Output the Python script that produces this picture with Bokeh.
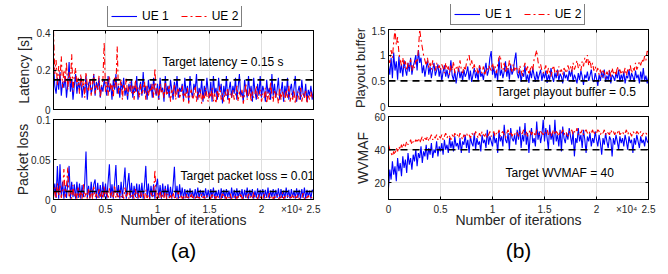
from bokeh.plotting import figure
from bokeh.layouts import row, column
from bokeh.models import (Range1d, FixedTicker, LinearAxis, Span, Label,
                          Legend, LegendItem, Title)
from bokeh.embed import file_html
from bokeh.resources import INLINE

# ---------------- data ----------------
iterations = list(range(0, 25001, 125))
x_ticks = [0, 5000, 10000, 15000, 20000, 25000]
x_tick_labels = ["0", "0.5", "1", "1.5", "2", "2.5"]
exponent_pos = 22900
exponent_label = "×10⁴"
series_labels = ["UE 1", "UE 2"]

latency_ue1 = [
    0.23, 0.12, 0.08, 0.16, 0.10, 0.19, 0.07, 0.14, 0.11, 0.17, 0.06, 0.13, 0.24, 0.09, 0.15, 0.05, 0.12, 0.18, 0.08, 0.14,
    0.10, 0.16, 0.06, 0.12, 0.09, 0.17, 0.05, 0.13, 0.15, 0.08, 0.11, 0.18, 0.07, 0.14, 0.10, 0.16, 0.06, 0.12, 0.09, 0.15,
    0.11, 0.07, 0.17, 0.09, 0.13, 0.05, 0.15, 0.10, 0.18, 0.08, 0.12, 0.06, 0.14, 0.10, 0.16, 0.07, 0.11, 0.05, 0.13, 0.09,
    0.15, 0.06, 0.12, 0.09, 0.17, 0.05, 0.11, 0.14, 0.07, 0.19, 0.08, 0.12, 0.05, 0.15, 0.09, 0.13, 0.06, 0.16, 0.10, 0.07,
    0.13, 0.05, 0.16, 0.09, 0.11, 0.04, 0.17, 0.08, 0.12, 0.06, 0.15, 0.10, 0.05, 0.14, 0.08, 0.17, 0.06, 0.11, 0.09, 0.13,
    0.05, 0.16, 0.08, 0.12, 0.04, 0.17, 0.09, 0.06, 0.13, 0.10, 0.18, 0.05, 0.11, 0.08, 0.15, 0.04, 0.12, 0.07, 0.16, 0.09,
    0.06, 0.14, 0.04, 0.17, 0.08, 0.11, 0.05, 0.16, 0.09, 0.13, 0.03, 0.12, 0.07, 0.17, 0.05, 0.10, 0.14, 0.06, 0.12, 0.08,
    0.16, 0.05, 0.11, 0.18, 0.07, 0.09, 0.04, 0.15, 0.10, 0.06, 0.17, 0.08, 0.12, 0.04, 0.16, 0.09, 0.05, 0.13, 0.07, 0.17,
    0.06, 0.12, 0.09, 0.04, 0.15, 0.08, 0.11, 0.05, 0.18, 0.07, 0.13, 0.06, 0.10, 0.16, 0.05, 0.09, 0.14, 0.04, 0.12, 0.07,
    0.16, 0.05, 0.10, 0.13, 0.06, 0.11, 0.17, 0.04, 0.09, 0.12, 0.05, 0.15, 0.08, 0.06, 0.13, 0.04, 0.10, 0.07, 0.12, 0.05,
    0.10]
latency_ue2 = [
    0.40, 0.18, 0.25, 0.12, 0.22, 0.15, 0.27, 0.11, 0.20, 0.14, 0.24, 0.10, 0.19, 0.13, 0.28, 0.09, 0.17, 0.21, 0.12, 0.16,
    0.08, 0.18, 0.11, 0.15, 0.06, 0.19, 0.12, 0.09, 0.16, 0.07, 0.14, 0.18, 0.08, 0.13, 0.10, 0.17, 0.06, 0.12, 0.15, 0.34,
    0.09, 0.14, 0.07, 0.17, 0.10, 0.13, 0.06, 0.16, 0.11, 0.32, 0.08, 0.12, 0.15, 0.05, 0.13, 0.09, 0.16, 0.07, 0.11, 0.14,
    0.08, 0.12, 0.05, 0.15, 0.09, 0.11, 0.06, 0.13, 0.08, 0.10, 0.14, 0.05, 0.12, 0.07, 0.11, 0.09, 0.13, 0.06, 0.21, 0.08,
    0.11, 0.05, 0.13, 0.08, 0.10, 0.06, 0.14, 0.07, 0.09, 0.12, 0.04, 0.10, 0.07, 0.13, 0.05, 0.09, 0.11, 0.06, 0.08, 0.12,
    0.04, 0.09, 0.06, 0.11, 0.03, 0.08, 0.10, 0.05, 0.07, 0.12, 0.04, 0.09, 0.06, 0.10, 0.03, 0.08, 0.05, 0.11, 0.07, 0.04,
    0.09, 0.06, 0.11, 0.04, 0.08, 0.03, 0.10, 0.06, 0.12, 0.05, 0.08, 0.04, 0.09, 0.07, 0.11, 0.03, 0.08, 0.06, 0.10, 0.05,
    0.07, 0.12, 0.04, 0.09, 0.06, 0.10, 0.03, 0.08, 0.13, 0.05, 0.07, 0.11, 0.04, 0.09, 0.06, 0.08, 0.12, 0.05, 0.07, 0.10,
    0.04, 0.08, 0.06, 0.11, 0.03, 0.09, 0.05, 0.14, 0.07, 0.04, 0.10, 0.06, 0.08, 0.03, 0.11, 0.05, 0.09, 0.07, 0.04, 0.10,
    0.06, 0.12, 0.04, 0.08, 0.05, 0.10, 0.03, 0.07, 0.09, 0.05, 0.11, 0.04, 0.08, 0.06, 0.10, 0.03, 0.07, 0.05, 0.09, 0.06,
    0.07]

loss_ue1 = [
    0.004, 0.020, 0.002, 0.042, 0.001, 0.044, 0.003, 0.022, 0.001, 0.018, 0.002, 0.021, 0.042, 0.001, 0.022, 0.003, 0.019, 0.001, 0.022, 0.002,
    0.020, 0.001, 0.018, 0.003, 0.021, 0.060, 0.002, 0.017, 0.001, 0.022, 0.003, 0.019, 0.025, 0.001, 0.021, 0.002, 0.018, 0.001, 0.022, 0.003,
    0.020, 0.001, 0.022, 0.044, 0.002, 0.019, 0.001, 0.021, 0.043, 0.003, 0.018, 0.001, 0.022, 0.002, 0.020, 0.040, 0.001, 0.019, 0.033, 0.002,
    0.021, 0.001, 0.017, 0.003, 0.020, 0.001, 0.019, 0.002, 0.021, 0.001, 0.018, 0.042, 0.002, 0.020, 0.001, 0.017, 0.003, 0.019, 0.001, 0.016,
    0.026, 0.002, 0.018, 0.001, 0.020, 0.003, 0.017, 0.001, 0.019, 0.002, 0.016, 0.001, 0.018, 0.041, 0.002, 0.017, 0.001, 0.019, 0.003, 0.015,
    0.001, 0.013, 0.002, 0.012, 0.001, 0.014, 0.003, 0.011, 0.001, 0.013, 0.002, 0.015, 0.001, 0.012, 0.003, 0.011, 0.001, 0.014, 0.002, 0.012,
    0.001, 0.013, 0.002, 0.015, 0.001, 0.011, 0.003, 0.012, 0.001, 0.014, 0.002, 0.012, 0.001, 0.013, 0.003, 0.011, 0.001, 0.015, 0.002, 0.012,
    0.001, 0.014, 0.002, 0.011, 0.003, 0.013, 0.001, 0.012, 0.002, 0.015, 0.001, 0.012, 0.003, 0.013, 0.001, 0.011, 0.002, 0.014, 0.001, 0.012,
    0.003, 0.013, 0.001, 0.012, 0.002, 0.015, 0.001, 0.011, 0.003, 0.013, 0.001, 0.012, 0.002, 0.014, 0.001, 0.013, 0.002, 0.011, 0.001, 0.015,
    0.002, 0.012, 0.001, 0.013, 0.003, 0.011, 0.001, 0.014, 0.002, 0.012, 0.001, 0.013, 0.002, 0.015, 0.001, 0.012, 0.003, 0.011, 0.001, 0.012,
    0.010]
loss_ue2 = [
    0.002, 0.015, 0.001, 0.020, 0.004, 0.017, 0.002, 0.012, 0.038, 0.003, 0.016, 0.040, 0.002, 0.012, 0.001, 0.018, 0.003, 0.009, 0.001, 0.015,
    0.002, 0.011, 0.001, 0.019, 0.003, 0.008, 0.001, 0.014, 0.002, 0.012, 0.001, 0.016, 0.003, 0.007, 0.001, 0.013, 0.002, 0.010, 0.001, 0.017,
    0.002, 0.009, 0.001, 0.014, 0.003, 0.010, 0.001, 0.018, 0.002, 0.008, 0.001, 0.012, 0.003, 0.007, 0.001, 0.015, 0.002, 0.009, 0.001, 0.011,
    0.002, 0.006, 0.001, 0.013, 0.002, 0.008, 0.001, 0.010, 0.003, 0.007, 0.001, 0.012, 0.002, 0.005, 0.001, 0.009, 0.002, 0.006, 0.037, 0.001,
    0.008, 0.002, 0.011, 0.001, 0.006, 0.002, 0.013, 0.001, 0.007, 0.002, 0.005, 0.001, 0.009, 0.002, 0.004, 0.001, 0.010, 0.002, 0.006, 0.001,
    0.004, 0.001, 0.007, 0.002, 0.003, 0.001, 0.008, 0.002, 0.004, 0.001, 0.006, 0.002, 0.003, 0.001, 0.007, 0.002, 0.004, 0.001, 0.005, 0.002,
    0.003, 0.001, 0.008, 0.002, 0.004, 0.001, 0.006, 0.002, 0.003, 0.001, 0.009, 0.002, 0.004, 0.001, 0.005, 0.002, 0.007, 0.001, 0.003, 0.002,
    0.006, 0.001, 0.004, 0.002, 0.008, 0.001, 0.003, 0.002, 0.005, 0.001, 0.007, 0.002, 0.004, 0.001, 0.009, 0.002, 0.003, 0.001, 0.006, 0.002,
    0.004, 0.001, 0.007, 0.002, 0.003, 0.001, 0.008, 0.002, 0.005, 0.001, 0.004, 0.002, 0.006, 0.001, 0.003, 0.002, 0.009, 0.001, 0.004, 0.002,
    0.005, 0.001, 0.003, 0.002, 0.007, 0.001, 0.004, 0.002, 0.006, 0.001, 0.003, 0.002, 0.008, 0.001, 0.004, 0.002, 0.005, 0.001, 0.003, 0.002,
    0.005]

buffer_ue1 = [
    0.80, 0.62, 0.95, 0.55, 1.05, 0.70, 0.88, 0.52, 0.98, 0.65, 0.82, 0.58, 0.90, 0.72, 0.60, 0.85, 0.68, 0.95, 0.62, 0.78,
    0.88, 1.00, 0.70, 1.10, 0.85, 0.95, 0.65, 0.80, 0.58, 0.75, 0.90, 0.62, 0.78, 0.55, 0.72, 0.85, 0.60, 0.70, 0.82, 0.58,
    0.75, 0.50, 0.68, 0.80, 0.58, 0.72, 0.55, 0.65, 0.90, 0.60, 0.52, 0.70, 0.45, 0.62, 0.75, 0.55, 0.68, 0.50, 0.72, 0.58,
    0.65, 0.78, 0.52, 0.70, 0.48, 0.62, 0.75, 0.55, 0.68, 0.50, 0.80, 0.58, 0.65, 0.52, 0.72, 0.85, 0.60, 0.70, 0.95, 1.08,
    0.62, 0.78, 0.55, 0.70, 0.50, 0.95, 0.60, 0.72, 0.55, 0.68, 0.88, 0.58, 0.75, 0.52, 0.82, 0.62, 0.70, 0.90, 1.05, 0.65,
    0.55, 0.72, 0.48, 0.65, 0.58, 0.80, 0.50, 0.62, 0.46, 0.70, 0.55, 0.75, 0.60, 0.48, 0.68, 0.52, 0.62, 0.72, 0.50, 0.65,
    0.55, 0.70, 0.46, 0.62, 0.52, 0.75, 0.58, 0.48, 0.66, 0.55, 0.72, 0.50, 0.64, 0.58, 0.45, 0.68, 0.55, 0.62, 0.50, 0.70,
    0.58, 0.72, 0.48, 0.62, 0.55, 0.45, 0.65, 0.52, 0.70, 0.58, 0.42, 0.62, 0.55, 0.68, 0.50, 0.60, 0.72, 0.52, 0.48, 0.65,
    0.55, 0.40, 0.62, 0.50, 0.68, 0.55, 0.72, 0.48, 0.60, 0.52, 0.70, 0.45, 0.62, 0.58, 0.50, 0.66, 0.55, 0.72, 0.48, 0.62,
    0.52, 0.68, 0.45, 0.60, 0.55, 0.72, 0.50, 0.65, 0.58, 0.48, 0.70, 0.55, 0.62, 0.45, 0.68, 0.52, 0.75, 0.50, 0.60, 0.45,
    0.58]
buffer_ue2 = [
    0.90, 0.85, 1.10, 0.95, 1.25, 1.50, 1.20, 1.35, 1.05, 0.90, 0.80, 0.95, 0.75, 0.88, 0.70, 0.85, 0.78, 0.92, 0.70, 0.82,
    0.75, 0.90, 0.85, 1.10, 1.50, 1.30, 1.15, 1.00, 0.90, 0.80, 0.95, 0.75, 0.85, 0.72, 0.90, 0.78, 0.70, 0.85, 0.75, 0.80,
    0.70, 0.82, 0.75, 0.65, 0.85, 0.72, 0.78, 0.62, 0.80, 0.70, 0.88, 0.65, 0.75, 0.80, 0.68, 0.90, 0.72, 0.65, 0.78, 0.70,
    0.85, 0.95, 1.00, 0.80, 0.90, 0.72, 0.82, 0.68, 0.75, 0.62, 0.80, 0.70, 0.65, 0.78, 0.60, 0.72, 0.68, 0.80, 0.75, 0.70,
    0.85, 0.72, 0.78, 0.65, 0.82, 0.95, 1.00, 0.75, 0.70, 0.85, 0.65, 0.80, 0.72, 0.90, 0.75, 0.68, 0.82, 0.70, 0.78, 0.72,
    0.65, 0.80, 0.70, 0.60, 0.75, 0.85, 0.68, 0.78, 0.62, 0.72, 0.80, 0.70, 0.92, 1.00, 1.10, 0.88, 0.75, 0.82, 0.70, 0.65,
    0.72, 0.80, 0.62, 0.75, 0.68, 0.58, 0.72, 0.80, 0.65, 0.70, 0.60, 0.78, 0.68, 0.72, 0.62, 0.75, 0.70, 0.65, 0.80, 0.72,
    0.78, 0.68, 0.85, 0.72, 0.80, 0.90, 0.75, 0.82, 0.70, 0.88, 0.78, 0.95, 0.85, 1.00, 0.80, 0.90, 0.75, 0.85, 0.70, 0.78,
    0.68, 0.75, 0.62, 0.72, 0.58, 0.70, 0.65, 0.55, 0.68, 0.62, 0.72, 0.58, 0.75, 0.65, 0.70, 0.60, 0.78, 0.68, 0.72, 0.62,
    0.70, 0.65, 0.75, 0.60, 0.72, 0.68, 0.80, 0.65, 0.75, 0.70, 0.85, 0.72, 0.78, 0.88, 0.80, 0.92, 0.85, 0.98, 0.90, 1.08,
    1.02]

wvmaf_ue1 = [
    17, 28, 22, 33, 25, 30, 21, 35, 27, 32, 24, 36, 29, 34, 26, 38, 31, 35, 28, 37,
    33, 40, 30, 38, 35, 42, 32, 39, 36, 43, 34, 41, 37, 44, 35, 40, 38, 45, 36, 42,
    39, 44, 37, 46, 40, 43, 38, 47, 41, 45, 39, 48, 42, 44, 40, 47, 38, 45, 43, 49,
    41, 46, 38, 48, 44, 42, 50, 40, 47, 43, 45, 39, 49, 44, 46, 41, 52, 43, 48, 45,
    42, 50, 44, 47, 38, 51, 45, 48, 42, 55, 46, 44, 50, 40, 53, 47, 45, 49, 43, 52,
    46, 54, 41, 49, 45, 56, 43, 50, 38, 48, 53, 44, 47, 42, 57, 46, 51, 44, 49, 58,
    45, 53, 47, 40, 55, 46, 50, 43, 58, 45, 49, 42, 52, 39, 54, 47, 44, 50, 46, 53,
    48, 43, 51, 36, 47, 44, 53, 45, 49, 41, 52, 46, 38, 48, 45, 50, 42, 47, 44, 51,
    46, 42, 49, 44, 37, 47, 43, 50, 45, 41, 48, 46, 36, 47, 43, 49, 45, 40, 48, 44,
    47, 42, 49, 45, 40, 48, 44, 46, 38, 47, 43, 49, 45, 41, 48, 44, 46, 42, 48, 45,
    44]
wvmaf_ue2 = [
    43, 40, 38, 36, 39, 37, 41, 39, 42, 40, 43, 41, 44, 42, 45, 43, 44, 46, 43, 45,
    44, 46, 45, 47, 44, 46, 48, 45, 47, 46, 48, 45, 47, 49, 46, 48, 47, 49, 46, 48,
    47, 49, 46, 48, 50, 47, 49, 48, 46, 49, 47, 50, 48, 49, 47, 50, 48, 46, 49, 48,
    50, 48, 49, 47, 50, 49, 48, 51, 49, 47, 50, 48, 51, 49, 48, 50, 47, 49, 51, 48,
    49, 51, 48, 50, 49, 52, 48, 50, 51, 49, 47, 50, 52, 49, 51, 48, 50, 49, 51, 50,
    48, 51, 49, 50, 52, 49, 51, 48, 50, 52, 49, 51, 50, 48, 52, 50, 49, 51, 50, 49,
    51, 50, 52, 49, 51, 48, 50, 52, 49, 51, 50, 48, 51, 50, 52, 49, 51, 50, 48, 51,
    50, 52, 49, 51, 50, 53, 49, 51, 50, 52, 49, 51, 52, 50, 49, 51, 50, 52, 49, 51,
    50, 52, 51, 49, 51, 50, 52, 49, 51, 50, 49, 52, 50, 51, 49, 51, 50, 52, 49, 50,
    51, 49, 50, 52, 49, 51, 50, 48, 51, 50, 49, 51, 50, 49, 51, 48, 50, 49, 50, 49,
    48]

FONT = "Liberation Sans"
TXT = "#262626"
BLUE = "#0000ff"
RED = "#ff0000"
RED_DASH = "6 3 2 3"


def tick_axis(ticks):
    """Axis that only draws inward tick marks (MATLAB box style)."""
    ax = LinearAxis(ticker=FixedTicker(ticks=ticks))
    ax.major_label_overrides = {t: "" for t in ticks}
    ax.major_label_text_font_size = "0px"
    ax.major_label_standoff = 0
    ax.major_tick_in = 3
    ax.major_tick_out = 0
    ax.minor_tick_line_color = None
    ax.axis_line_color = "black"
    ax.major_tick_line_color = "black"
    return ax


def style_text_axis(ax, label_size="14px"):
    ax.major_label_text_font = FONT
    ax.major_label_text_font_size = "10px"
    ax.major_label_text_color = TXT
    ax.axis_label_text_font = FONT
    ax.axis_label_text_font_style = "normal"
    ax.axis_label_text_font_size = label_size
    ax.axis_label_text_color = TXT


def make_fig(frame_h, left, right, top, bottom, yr, yticks, ylabels,
             ylabel, ylab_standoff, show_x, ylabel_size="14px"):
    p = figure(frame_width=260, frame_height=frame_h,
               x_range=Range1d(0, 25000), y_range=Range1d(*yr),
               min_border_left=left, min_border_right=right,
               min_border_top=top, min_border_bottom=bottom,
               output_backend="svg", toolbar_location=None)
    p.outline_line_color = "black"
    p.outline_line_alpha = 1
    p.outline_line_width = 1
    p.background_fill_color = "white"
    p.border_fill_color = "white"

    yax = p.yaxis[0]
    yax.ticker = FixedTicker(ticks=yticks)
    yax.major_label_overrides = dict(zip(yticks, ylabels))
    yax.major_tick_in = 3
    yax.major_tick_out = 0
    yax.minor_tick_line_color = None
    yax.axis_line_color = "black"
    yax.major_tick_line_color = "black"
    style_text_axis(yax, ylabel_size)
    yax.axis_label = ylabel
    yax.axis_label_standoff = ylab_standoff
    yax.major_label_standoff = 3

    xax = p.xaxis[0]
    xax.ticker = FixedTicker(ticks=x_ticks)
    xax.major_tick_in = 3
    xax.major_tick_out = 0
    xax.minor_tick_line_color = None
    xax.axis_line_color = "black"
    xax.major_tick_line_color = "black"
    xax.major_label_overrides = {t: "" for t in x_ticks}
    xax.major_label_text_font_size = "0px"
    xax.major_label_standoff = 0
    if show_x:
        lab_ticks = x_ticks + [exponent_pos]
        lab = LinearAxis(ticker=FixedTicker(ticks=lab_ticks))
        lab.major_label_overrides = dict(zip(lab_ticks, x_tick_labels + [exponent_label]))
        lab.major_tick_line_color = None
        lab.minor_tick_line_color = None
        lab.axis_line_color = None
        style_text_axis(lab)
        lab.major_label_standoff = -2
        lab.axis_label = "Number of iterations"
        lab.axis_label_standoff = -6
        p.add_layout(lab, "below")

    p.xgrid.ticker = FixedTicker(ticks=x_ticks)
    p.ygrid.ticker = FixedTicker(ticks=yticks)
    p.xgrid.grid_line_color = "#dedede"
    p.ygrid.grid_line_color = "#dedede"

    p.add_layout(tick_axis(x_ticks), "above")
    p.add_layout(tick_axis(yticks), "right")
    return p


def add_lines(p, y1, y2):
    r1 = p.line(iterations, y1, line_color=BLUE, line_width=1.1)
    r2 = p.line(iterations, y2, line_color=RED, line_width=1.1, line_dash=RED_DASH)
    return r1, r2


def add_target(p, level, text, tx, ty):
    p.add_layout(Span(location=level, dimension="width", line_color="black",
                      line_width=1.6, line_dash="7 5"))
    p.add_layout(Label(x=tx, y=ty, text=text, text_font=FONT,
                       text_font_size="12px", text_color="black",
                       text_baseline="middle"))


def legend_fig(left, right, top, lx, y1, y2):
    """Strip above a panel holding the series legend (data lies outside its view)."""
    p = figure(frame_width=260, frame_height=22, x_range=Range1d(0, 25000),
               y_range=Range1d(1000, 1001), min_border_left=left,
               min_border_right=right, min_border_top=top, min_border_bottom=0,
               x_axis_location=None, y_axis_location=None,
               output_backend="svg", toolbar_location=None)
    p.outline_line_color = None
    p.grid.visible = False
    p.background_fill_color = "white"
    p.border_fill_color = "white"
    r1, r2 = add_lines(p, y1, y2)
    leg = Legend(items=[LegendItem(label=series_labels[0], renderers=[r1]),
                        LegendItem(label=series_labels[1], renderers=[r2])],
                 orientation="horizontal", location=(lx, 1))
    leg.border_line_color = "black"
    leg.border_line_width = 1
    leg.background_fill_color = "white"
    leg.background_fill_alpha = 1
    leg.label_text_font = FONT
    leg.label_text_font_size = "12px"
    leg.label_text_color = "black"
    leg.glyph_width = 26
    leg.glyph_height = 14
    leg.label_height = 14
    leg.label_standoff = 5
    leg.spacing = 12
    leg.padding = 3
    leg.margin = 0
    p.add_layout(leg)
    return p


def add_tag(p, tag):
    p.add_layout(Title(text=tag, align="center", text_font=FONT,
                       text_font_size="21px", text_font_style="normal",
                       text_color="black", standoff=12), "below")


# ----- (a) -----
leg_a = legend_fig(53, 21, 6, 54, latency_ue1, latency_ue2)
p_lat = make_fig(79, 53, 21, 2, 5, (0, 0.4), [0, 0.2, 0.4], ["0", "0.2", "0.4"],
                 "Latency [s]", 2, False)
add_lines(p_lat, latency_ue1, latency_ue2)
add_target(p_lat, 0.15, "Target latency = 0.15 s", 10480, 0.238)

p_loss = make_fig(80, 53, 21, 5, 10, (0, 0.1), [0, 0.05, 0.1], ["0", "0.05", "0.1"],
                  "Packet loss", -3, True)
add_lines(p_loss, loss_ue1, loss_ue2)
add_target(p_loss, 0.01, "Target packet loss = 0.01", 12210, 0.030)
add_tag(p_loss, "(a)")

# ----- (b) -----
leg_b = legend_fig(54, 20, 4, 62, buffer_ue1, buffer_ue2)
p_buf = make_fig(77, 54, 20, 3, 5, (0, 1.5), [0, 0.5, 1, 1.5], ["0", "0.5", "1", "1.5"],
                 "Playout buffer", 1, False, ylabel_size="13px")
add_lines(p_buf, buffer_ue1, buffer_ue2)
add_target(p_buf, 0.5, "Target playout buffer = 0.5", 10385, 0.276)

p_vm = make_fig(83, 54, 20, 5, 10, (10, 60), [20, 40, 60], ["20", "40", "60"],
                "WVMAF", 0, True)
add_lines(p_vm, wvmaf_ue1, wvmaf_ue2)
add_target(p_vm, 40, "Target WVMAF = 40", 11250, 25.7)
add_tag(p_vm, "(b)")

layout = row(column(leg_a, p_lat, p_loss), column(leg_b, p_buf, p_vm))
open("out.html", "w").write(file_html(layout, INLINE))
